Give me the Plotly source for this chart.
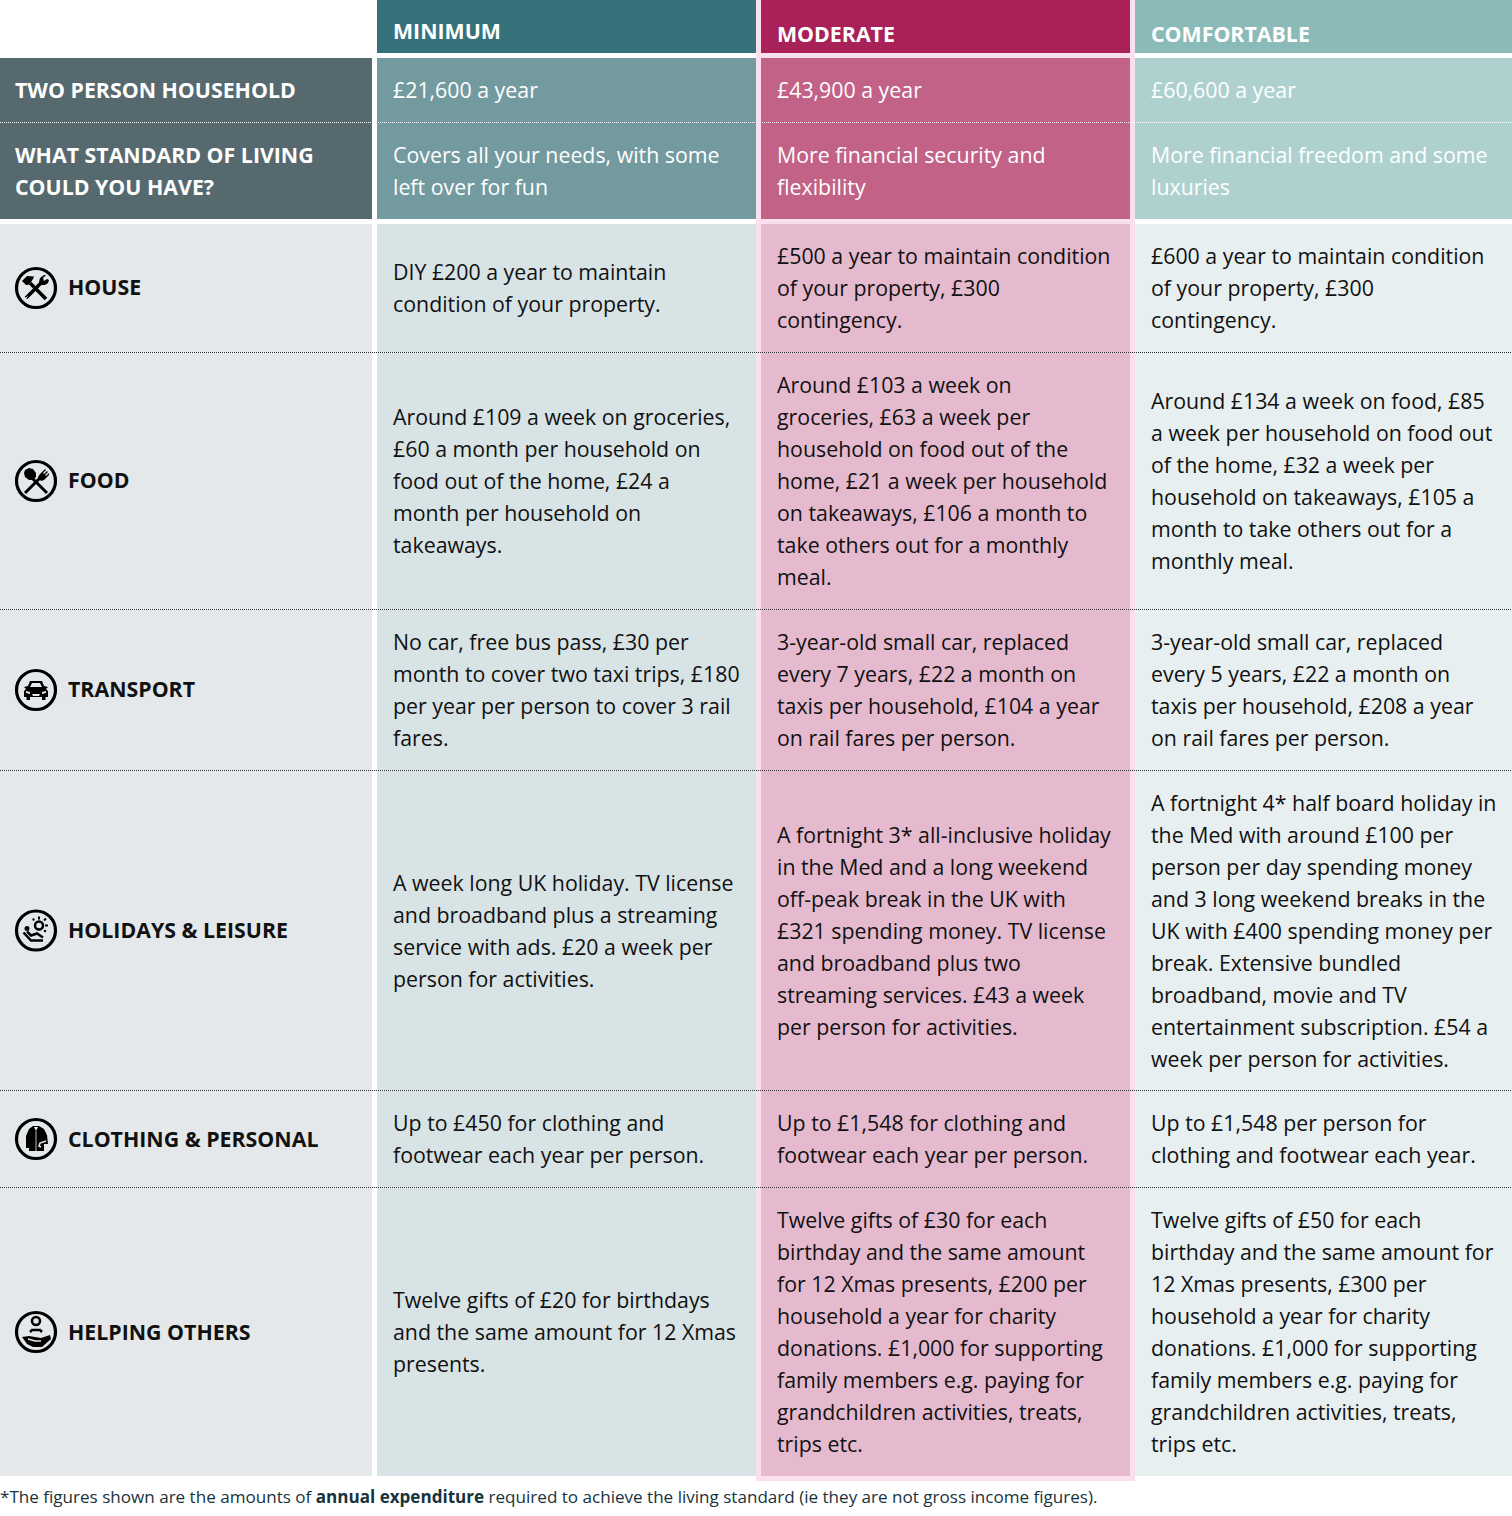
import plotly.graph_objects as go

columns = ['MINIMUM', 'MODERATE', 'COMFORTABLE']
header_left = [['TWO PERSON HOUSEHOLD'], ['WHAT STANDARD OF LIVING', 'COULD YOU HAVE?']]
incomes = [['£21,600 a year'], ['£43,900 a year'], ['£60,600 a year']]
standards = [
    ['Covers all your needs, with some', 'left over for fun'],
    ['More financial security and', 'flexibility'],
    ['More financial freedom and some', 'luxuries'],
]
categories = ['HOUSE', 'FOOD', 'TRANSPORT', 'HOLIDAYS & LEISURE', 'CLOTHING & PERSONAL', 'HELPING OTHERS']

minimum = [
    ['DIY £200 a year to maintain', 'condition of your property.'],
    ['Around £109 a week on groceries,', '£60 a month per household on', 'food out of the home, £24 a',
     'month per household on', 'takeaways.'],
    ['No car, free bus pass, £30 per', 'month to cover two taxi trips, £180', 'per year per person to cover 3 rail',
     'fares.'],
    ['A week long UK holiday. TV license', 'and broadband plus a streaming', 'service with ads. £20 a week per',
     'person for activities.'],
    ['Up to £450 for clothing and', 'footwear each year per person.'],
    ['Twelve gifts of £20 for birthdays', 'and the same amount for 12 Xmas', 'presents.'],
]
moderate = [
    ['£500 a year to maintain condition', 'of your property, £300', 'contingency.'],
    ['Around £103 a week on', 'groceries, £63 a week per', 'household on food out of the',
     'home, £21 a week per household', 'on takeaways, £106 a month to', 'take others out for a monthly', 'meal.'],
    ['3-year-old small car, replaced', 'every 7 years, £22 a month on', 'taxis per household, £104 a year',
     'on rail fares per person.'],
    ['A fortnight 3* all-inclusive holiday', 'in the Med and a long weekend', 'off-peak break in the UK with',
     '£321 spending money. TV license', 'and broadband plus two', 'streaming services. £43 a week',
     'per person for activities.'],
    ['Up to £1,548 for clothing and', 'footwear each year per person.'],
    ['Twelve gifts of £30 for each', 'birthday and the same amount', 'for 12 Xmas presents, £200 per',
     'household a year for charity', 'donations. £1,000 for supporting', 'family members e.g. paying for',
     'grandchildren activities, treats,', 'trips etc.'],
]
comfortable = [
    ['£600 a year to maintain condition', 'of your property, £300', 'contingency.'],
    ['Around £134 a week on food, £85', 'a week per household on food out', 'of the home, £32 a week per',
     'household on takeaways, £105 a', 'month to take others out for a', 'monthly meal.'],
    ['3-year-old small car, replaced', 'every 5 years, £22 a month on', 'taxis per household, £208 a year',
     'on rail fares per person.'],
    ['A fortnight 4* half board holiday in', 'the Med with around £100 per', 'person per day spending money',
     'and 3 long weekend breaks in the', 'UK with £400 spending money per', 'break. Extensive bundled',
     'broadband, movie and TV', 'entertainment subscription. £54 a', 'week per person for activities.'],
    ['Up to £1,548 per person for', 'clothing and footwear each year.'],
    ['Twelve gifts of £50 for each', 'birthday and the same amount for', '12 Xmas presents, £300 per',
     'household a year for charity', 'donations. £1,000 for supporting', 'family members e.g. paying for',
     'grandchildren activities, treats,', 'trips etc.'],
]
footnote = ('*The figures shown are the amounts of <b>annual expenditure</b> required to achieve the '
            'living standard (ie they are not gross income figures).')

# layout in page pixels
W, H = 1512, 1516
col_x = [(0, 372), (377, 756), (761, 1130), (1135, 1512)]
text_x = [14, 392, 776, 1150]
body_rows = [(224, 352), (353, 609), (610, 770), (771, 1090), (1091, 1187), (1188, 1476)]
label_nudge = [-2, -2, -2, -1, -1, -1]
line_h = 32
FONT = 'Open Sans'
SIZE = 21.33
BG = '#e4e8ea'

head_col = ['#37717a', '#a82259', '#8abbb9']
mid_col = ['#56696f', '#729a9f', '#c26287', '#aed1d0']
body_col = [BG, '#d7e3e5', '#e5bace', '#e7eff0']

shapes = []
notes = []


def rect(x0, y0, x1, y1, color):
    shapes.append(dict(type='rect', x0=x0, y0=y0, x1=x1, y1=y1, fillcolor=color, line_width=0, layer='below'))


def dotted(y, color):
    shapes.append(dict(type='line', x0=0, x1=W, y0=y, y1=y, line=dict(color=color, width=1, dash='1px,1px')))


def write(x, y, lines, color='#111111', size=SIZE, bold=False):
    # every line gets its own annotation, plotly's own line spacing is too tight here
    for i, line in enumerate(lines):
        txt = '<b>%s</b>' % line if bold else line
        notes.append(dict(x=x, y=y + (i - (len(lines) - 1) / 2) * line_h, text=txt, showarrow=False,
                          xanchor='left', yanchor='middle', borderpad=0,
                          font=dict(family=FONT, size=size, color=color)))


def poly(cx, cy, pts, fill='#000000'):
    d = 'M ' + ' L '.join('%g %g' % (cx + px, cy + py) for px, py in pts) + ' Z'
    shapes.append(dict(type='path', path=d, fillcolor=fill, line_width=0))


def stroke(cx, cy, pts, width=2.5, color='#000000'):
    d = 'M ' + ' L '.join('%g %g' % (cx + px, cy + py) for px, py in pts)
    shapes.append(dict(type='path', path=d, line=dict(color=color, width=width)))


def ring(cx, cy, r, width=0, fill='rgba(0,0,0,0)'):
    shapes.append(dict(type='circle', x0=cx - r, x1=cx + r, y0=cy - r, y1=cy + r,
                       fillcolor=fill, line=dict(color='#000000', width=width)))


def icon_house(cx, cy):
    poly(cx, cy, [(-14, -7), (-9, -12), (-2, -11.5), (-3, -9), (-5, -6), (-8, -3), (-10, -3)])
    stroke(cx, cy, [(-6, -5), (10, 11)], 3.5)
    stroke(cx, cy, [(-10, 10), (6, -6)], 3.5)
    poly(cx, cy, [(3, -6), (4, -10), (8, -13), (10, -13), (7, -10), (8, -7), (11, -9), (13, -8), (12, -5), (9, -3), (6, -3)])
    stroke(cx, cy, [(-10, 10), (-8.5, 8.5)], 1, BG)


def icon_food(cx, cy):
    poly(cx, cy, [(-7, -13), (-3, -12), (0, -8), (0, -4), (-3, -1), (-7, -1), (-11, -4), (-12, -8), (-11, -11)])
    stroke(cx, cy, [(-4, -3), (11, 12)], 3)
    stroke(cx, cy, [(-11, 12), (4, -3)], 3)
    poly(cx, cy, [(2, -4), (4, -7), (9, -12), (10, -11), (7, -8), (8, -7), (11, -10), (12, -9), (9, -6), (10, -5), (13, -8), (13, -6), (8, -1), (5, 0)])


def icon_car(cx, cy):
    poly(cx, cy, [(-8, -4), (-6, -9), (6, -9), (8, -4), (12, -3), (10, -1), (12, 1), (12, 7), (9.5, 7), (9.5, 10), (6, 10),
                  (6, 7), (-6, 7), (-6, 10), (-9.5, 10), (-9.5, 7), (-12, 7), (-12, 1), (-10, -1), (-12, -3)])
    poly(cx, cy, [(-6, -3), (-4, -7), (4, -7), (6, -3)], BG)
    poly(cx, cy, [(-10, 1), (-6, 2), (-6, 4), (-10, 3)], BG)
    poly(cx, cy, [(10, 1), (6, 2), (6, 4), (10, 3)], BG)
    poly(cx, cy, [(-4, 4), (4, 4), (3, 6), (-3, 6)], BG)


def icon_sun(cx, cy):
    ring(cx + 3, cy - 5, 4, 2.5)
    for p, q in [((3, -14), (3, -11)), ((9, -5), (12, -5)), ((8, -10), (10, -12)),
                 ((-2, -10), (-3, -12)), ((8, 0), (10, 1))]:
        stroke(cx, cy, [p, q], 2)
    ring(cx - 9, cy - 2, 2.5, 0, '#000000')
    stroke(cx, cy, [(-12.5, 2), (-5, 10), (7, 10)], 2.5)
    stroke(cx, cy, [(-9, 1), (-5, 5), (1, 3), (7, 7)], 2.5)


def icon_clothes(cx, cy):
    poly(cx, cy, [(-3, -13), (3, -13), (8, -10), (11, -4), (12, 5), (8, 5), (8, 12), (-7, 12), (-7, 9), (-10, 9),
                  (-10, -3), (-7, -10)])
    poly(cx, cy, [(-2, -12), (2, -12), (0, -8)], BG)
    stroke(cx, cy, [(0, -8), (0, 12)], 0.8, BG)
    stroke(cx, cy, [(10, 2), (4, 4), (3, 7), (5, 8)], 1.5, BG)


def icon_help(cx, cy):
    ring(cx, cy - 11, 4, 2.5)
    stroke(cx, cy, [(-6, 0), (-4, -2), (4, -2), (6, 0)], 2.5)
    poly(cx, cy, [(-14, 5), (-7, 4), (-1, 5), (5, 6), (14, 3), (15, 7), (6, 15), (-3, 15), (-9, 12)])
    stroke(cx, cy, [(-8, 7), (-1, 9), (5, 9)], 1.5, BG)


icons = [icon_house, icon_food, icon_car, icon_sun, icon_clothes, icon_help]

# pale pink band behind the moderate column
rect(756, 0, 1135, 1481, '#fae0ee')

# header row
for i, name in enumerate(columns):
    x0, x1 = col_x[i + 1]
    rect(x0, 0, x1, 53, head_col[i])
    write(text_x[i + 1], 30 if i == 0 else 33, [name], '#ffffff', SIZE, True)

# income and standard rows
for c, (x0, x1) in enumerate(col_x):
    rect(x0, 58, x1, 219, mid_col[c])
write(text_x[0], 89, header_left[0], '#ffffff', SIZE, True)
write(text_x[0], 170, header_left[1], '#ffffff', SIZE, True)
for i in range(3):
    write(text_x[i + 1], 89, incomes[i], '#ffffff')
    write(text_x[i + 1], 170, standards[i], '#ffffff')
dotted(122.5, '#ffffff')

# body rows
for r, (y0, y1) in enumerate(body_rows):
    for c, (x0, x1) in enumerate(col_x):
        rect(x0, y0, x1, y1, body_col[c])
    mid = (y0 + y1) / 2
    ring(36, mid, 19.5, 3.2)
    icons[r](36, mid)
    write(67, mid + label_nudge[r], [categories[r]], '#111111', SIZE, True)
    write(text_x[1], mid - 0.5, minimum[r])
    write(text_x[2], mid - 0.5, moderate[r])
    write(text_x[3], mid - 0.5, comfortable[r])
    if r < len(body_rows) - 1:
        dotted(y1 + 0.5, '#222222')

notes.append(dict(x=0, xshift=-1, y=1496, text=footnote, showarrow=False, xanchor='left', yanchor='middle', borderpad=0,
                  font=dict(family=FONT, size=17.07, color='#17333d')))

fig = go.Figure()
fig.update_layout(
    width=W, height=H, margin=dict(l=0, r=0, t=0, b=0),
    paper_bgcolor='#ffffff', plot_bgcolor='#ffffff', showlegend=False,
    xaxis=dict(range=[0, W], visible=False, fixedrange=True),
    yaxis=dict(range=[H, 0], visible=False, fixedrange=True),
    shapes=shapes, annotations=notes,
)

fig.write_html("out.html", config={'displayModeBar': False}, post_script="document.body.style.margin='0';")
